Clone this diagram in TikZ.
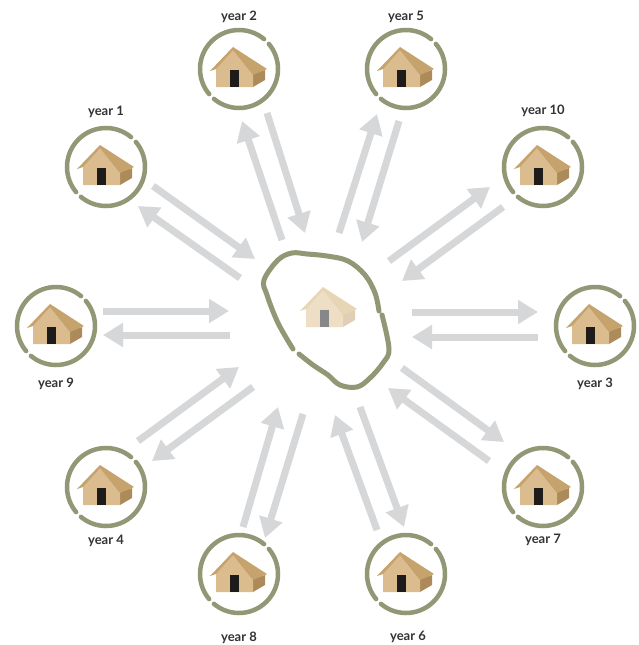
\documentclass[tikz,border=0pt]{standalone}
\usepackage{fontspec}
\setmainfont{Lato}
\usetikzlibrary{arrows.meta}
\definecolor{olive}{RGB}{146,152,118}
\definecolor{flow}{RGB}{214,215,217}
\definecolor{wall}{RGB}{219,188,142}
\definecolor{roofc}{RGB}{198,162,108}
\definecolor{sidec}{RGB}{172,138,90}
\definecolor{doorc}{RGB}{30,27,27}
\definecolor{wallp}{RGB}{238,222,198}
\definecolor{roofp}{RGB}{230,214,182}
\definecolor{sidep}{RGB}{224,207,180}
\definecolor{doorp}{RGB}{135,135,135}
\tikzset{
  flowarrow/.style={draw=flow,line width=7pt,-{Triangle[width=23pt,length=20pt,fill=flow]}},
  ringmark/.style={circle,minimum size=78pt,inner sep=0pt},
  ringarc/.style={draw=olive,line width=4.5pt,line cap=round},
  blobline/.style={draw=olive,line width=5pt,line cap=round,smooth,tension=0.6},
  yearlabel/.style={font=\bfseries\fontsize{13}{15}\selectfont,text=black!80,inner sep=0pt},
  pics/hut/.style n args={4}{code={
    \fill[#3] (14,18) -- (26,11) -- (26,1) -- (14,5) -- cycle;
    \fill[#1] (-23,18) -- (-23,-1) -- (-6,-20) -- (14,5) -- (14,18) -- cycle;
    \fill[#2] (-6,-22) -- (28,0) -- (14,6) -- (-6,-19) -- cycle;
    \fill[#2] (-29,2) -- (-6,-22) -- (-6,-19) -- (-23,0) -- cycle;
    \fill[#4] (-9,1) rectangle (0,18);
  }}
}
\begin{document}
\begin{tikzpicture}[x=1pt,y=-1pt]
\useasboundingbox[fill=white] (0,0) rectangle (638,645);
% rings, huts and labels
\foreach \n/\x/\y/\txt/\lx/\ly in {
  y1/106/167/year 1/106/112, y2/239/69/year 2/239/17, y5/406/69/year 5/406/17,
  y10/543/167/year 10/543/111, y3/595/326/year 3/595/384, y7/543/487/year 7/543/540,
  y6/406/574/year 6/408/637, y8/239/574/year 8/239/638, y4/106/487/year 4/106/541,
  y9/56/326/year 9/56/384}{
  \node[ringmark] (\n) at (\x,\y) {};
  \draw[ringarc] ([shift={(50:39pt)}]\n.center) arc[start angle=50,end angle=220,radius=39pt];
  \draw[ringarc] ([shift={(230:39pt)}]\n.center) arc[start angle=230,end angle=400,radius=39pt];
  \pic at (\n.center) {hut={wall}{roofc}{sidec}{doorc}};
  \node[yearlabel] (\n label) at (\lx,\ly) {\txt};
}
% home
\coordinate (home) at (329,309);
\pic at (home) {hut={wallp}{roofp}{sidep}{doorp}};
\draw[blobline] plot coordinates {(379,311) (375,293) (365,275) (348,261) (327,256) (307,254) (292,253) (278,260) (264,280) (267,295) (278,323) (293,349)};
\draw[blobline] plot coordinates {(299,354) (313,365) (328,375) (340,385) (357,387) (370,378) (383,363) (389,349) (382,315)};
% connector ends
\foreach \n/\x/\y in {
 a1/153/186,b1/255/259,c1/240/278,d1/138/206,
 a2/282/240,b2/242/121,c2/267/113,d2/305/233,
 a5/339/233,b5/377/114,c5/399/121,d5/362/242,
 a10/389/261,b10/490/187,c10/503/207,d10/402/281,
 a9/103/311,b9/229/311,c9/230/335,d9/103/335,
 a4/138/441,b4/239/367,c4/253/387,d4/152/461,
 a8/243/527,b8/278/407,c8/303/414,d8/265/538,
 a3/412/312,b3/538/312,c3/538/337,d3/412/337,
 a7/402/368,b7/504/442,c7/489/461,d7/388/388,
 a6/360/407,b6/404/527,c6/377/530,d6/335/415}{
  \coordinate (\n) at (\x,\y);
}
\foreach \k in {1,2,5,10,9,4,8,3,7,6}{
  \draw[flowarrow] (a\k) -- (b\k);
  \draw[flowarrow] (c\k) -- (d\k);
}
\end{tikzpicture}
\end{document}
